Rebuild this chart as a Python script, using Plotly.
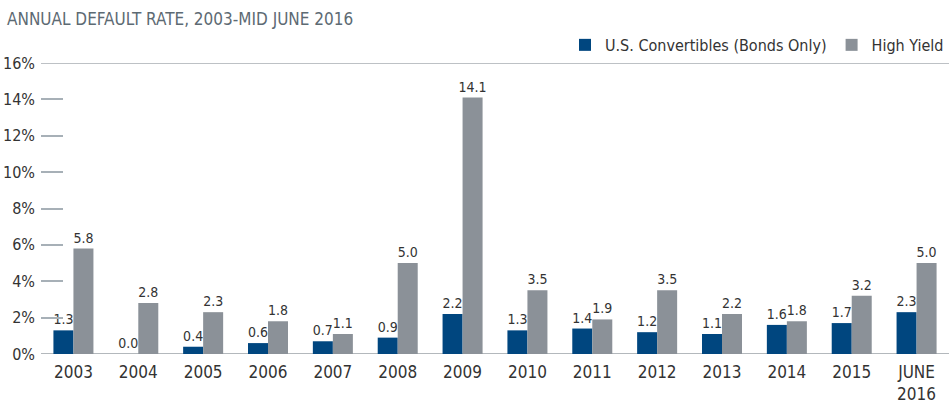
import plotly.graph_objects as go

categories = ["2003", "2004", "2005", "2006", "2007", "2008", "2009", "2010",
              "2011", "2012", "2013", "2014", "2015", "JUNE<br>2016"]
convertibles = [1.3, 0.0, 0.4, 0.6, 0.7, 0.9, 2.2, 1.3, 1.4, 1.2, 1.1, 1.6, 1.7, 2.3]
high_yield = [5.8, 2.8, 2.3, 1.8, 1.1, 5.0, 14.1, 3.5, 1.9, 3.5, 2.2, 1.8, 3.2, 5.0]
y_ticks = [0, 2, 4, 6, 8, 10, 12, 14, 16]
y_tick_labels = ["0%", "2%", "4%", "6%", "8%", "10%", "12%", "14%", "16%"]

FONT = "DejaVu Sans Condensed, sans-serif"
BLUE = "#00467f"
GRAY = "#8b9198"
TXT = "#333333"

fig = go.Figure()
fig.add_trace(go.Bar(
    name="U.S. Convertibles (Bonds Only)", x=categories, y=convertibles,
    marker=dict(color=BLUE, line=dict(width=0)),
    texttemplate="%{y:.1f}", textposition="outside", constraintext="none",
    textfont=dict(family=FONT, size=14, color=TXT), cliponaxis=False,
))
fig.add_trace(go.Bar(
    name="High Yield", x=categories, y=high_yield,
    marker=dict(color=GRAY, line=dict(width=0)),
    texttemplate="%{y:.1f}", textposition="outside", constraintext="none",
    textfont=dict(family=FONT, size=14, color=TXT), cliponaxis=False,
))

fig.update_layout(
    width=949, height=403,
    margin=dict(l=41, r=0, t=63, b=49),
    paper_bgcolor="white", plot_bgcolor="white",
    barmode="group", bargap=0.383, bargroupgap=0,
    font=dict(family=FONT, size=17, color=TXT),
    showlegend=True,
    legend=dict(orientation="h", x=1, xanchor="right", y=1.062, yanchor="middle",
                font=dict(family=FONT, size=16, color=TXT),
                bgcolor="rgba(0,0,0,0)", traceorder="normal"),
    title=dict(text="ANNUAL DEFAULT RATE, 2003-MID JUNE 2016",
               x=7 / 949, xanchor="left", xref="container",
               y=1 - 19 / 403, yanchor="middle", yref="container",
               font=dict(family=FONT, size=17, color="#5d6a73")),
    xaxis=dict(showgrid=False, showline=False, zeroline=False, ticks="",
               tickfont=dict(family=FONT, size=17, color=TXT),
               ticklabelstandoff=6),
    yaxis=dict(range=[0, 16], tickvals=y_ticks, ticktext=y_tick_labels,
               showgrid=False, zeroline=False, showline=False,
               ticks="inside", ticklen=22, tickwidth=1.5, tickcolor="#a7b0b7",
               tickfont=dict(family=FONT, size=16, color=TXT),
               ticklabelstandoff=5),
    shapes=[
        dict(type="line", xref="paper", yref="y", x0=0, x1=1, y0=16, y1=16,
             line=dict(color="#a7adb2", width=1.5), layer="below"),
        dict(type="line", xref="paper", yref="y", x0=0, x1=1, y0=0, y1=0,
             line=dict(color="#b3b8bc", width=2), layer="below"),
    ],
)

fig.write_html("out.html", config={"displayModeBar": False},
               post_script="document.body.style.margin='0';")
